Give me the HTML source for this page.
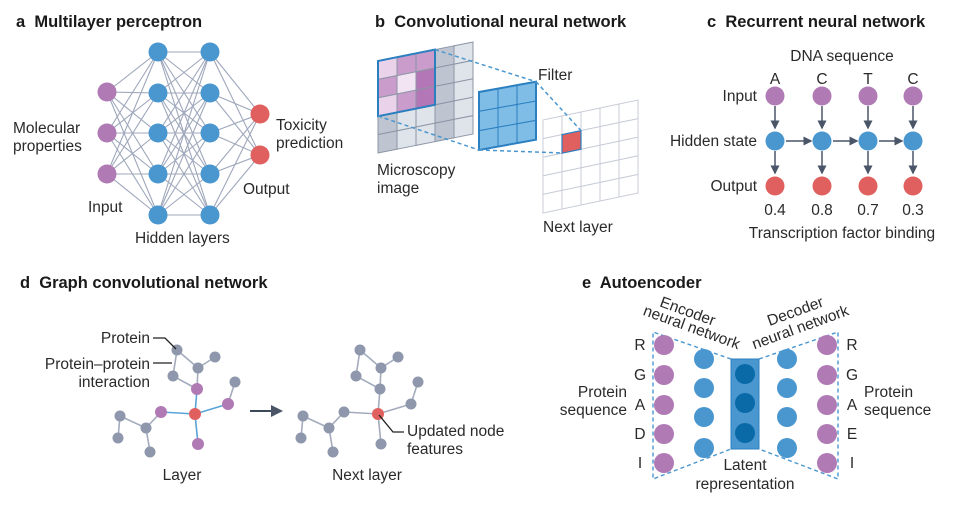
<!DOCTYPE html>
<html><head><meta charset="utf-8"><style>
html,body{margin:0;padding:0;background:#fff;}
svg{display:block;font-family:"Liberation Sans",sans-serif;}
.t{font-size:15.5px;fill:#2a2a2a;}
.h{font-size:16.5px;font-weight:bold;fill:#1a1a1a;}
</style></head><body>
<svg id="s" width="975" height="507" viewBox="0 0 975 507" xmlns="http://www.w3.org/2000/svg">
<defs>
<marker id="ar" markerWidth="6" markerHeight="6" refX="5" refY="3" orient="auto"><path d="M0,0 L6,3 L0,6 Z" fill="#4a5568"/></marker>
</defs>
<g id="mlpEdges" stroke="#9ea7bb" stroke-width="1.1"></g>
<g id="mlpNodes"></g>
<text class="h" x="16" y="27">a&#160; Multilayer perceptron</text>
<text class="t" x="13" y="133">Molecular</text>
<text class="t" x="13" y="151">properties</text>
<text class="t" x="88" y="212">Input</text>
<text class="t" x="135" y="243">Hidden layers</text>
<text class="t" x="276" y="130">Toxicity</text>
<text class="t" x="276" y="148">prediction</text>
<text class="t" x="243" y="194">Output</text>

<!-- panel b -->
<text class="h" x="375" y="27">b&#160; Convolutional neural network</text>
<g transform="translate(378,61) matrix(1,-0.2,0,1,0,0)" stroke="#8c95a6" stroke-width="1">
<g id="micro"></g>
<rect x="0" y="0" width="57" height="55.2" fill="none" stroke="#2a7fc0" stroke-width="2"/>
</g>
<g transform="translate(479,92) matrix(1,-0.18,0,1,0,0)">
<g id="filt"></g>
<rect x="0" y="0" width="57" height="58" fill="none" stroke="#2a7fc0" stroke-width="2"/>
</g>
<g transform="translate(543,120) matrix(1,-0.21,0,1,0,0)">
<g id="next"></g>
<rect x="19" y="18.6" width="19" height="18.6" fill="#e0605f" stroke="#2a7fc0" stroke-width="1.2"/>
</g>
<g stroke="#4a97d0" stroke-width="1.5" stroke-dasharray="4,3" fill="none">
<line x1="435" y1="49.6" x2="536" y2="81.7"/>
<line x1="378" y1="116" x2="479" y2="150"/>
<line x1="536" y1="81.7" x2="581" y2="130.6"/>
<line x1="479" y1="150" x2="562" y2="153"/>
</g>
<text class="t" x="538" y="80">Filter</text>
<text class="t" x="377" y="175">Microscopy</text>
<text class="t" x="377" y="193">image</text>
<text class="t" x="543" y="232">Next layer</text>

<!-- panel c -->
<text class="h" x="707" y="27">c&#160; Recurrent neural network</text>
<text class="t" x="842" y="61" text-anchor="middle">DNA sequence</text>
<g id="rnn"></g>
<text class="t" x="757" y="101" text-anchor="end">Input</text>
<text class="t" x="757" y="146" text-anchor="end">Hidden state</text>
<text class="t" x="757" y="191" text-anchor="end">Output</text>
<text class="t" x="842" y="238" text-anchor="middle">Transcription factor binding</text>

<!-- panel d -->
<text class="h" x="20" y="288">d&#160; Graph convolutional network</text>
<g id="graphs"></g>
<line x1="250" y1="411" x2="281" y2="411" stroke="#3d4a5c" stroke-width="2" marker-end="url(#ar)"/>
<polyline points="153,338 165,338 176,349" fill="none" stroke="#222" stroke-width="1.3"/>
<polyline points="153,363 172,363" fill="none" stroke="#222" stroke-width="1.3"/>
<polyline points="379,415 393,432 404,432" fill="none" stroke="#222" stroke-width="1.3"/>
<text class="t" x="150" y="343" text-anchor="end">Protein</text>
<text class="t" x="150" y="369" text-anchor="end">Protein–protein</text>
<text class="t" x="150" y="387" text-anchor="end">interaction</text>
<text class="t" x="182" y="480" text-anchor="middle">Layer</text>
<text class="t" x="367" y="480" text-anchor="middle">Next layer</text>
<text class="t" x="407" y="436">Updated node</text>
<text class="t" x="407" y="454">features</text>

<!-- panel e -->
<text class="h" x="582" y="288">e&#160; Autoencoder</text>
<g stroke="#4a97d0" stroke-width="1.4" stroke-dasharray="4,3" fill="none">
<polyline points="731,359 653,332 653,479 731,449"/>
<polyline points="759,359 838,332 838,479 759,449"/>
</g>
<rect x="731" y="359" width="28" height="90" fill="#4a97d0" stroke="#2a7fc0"/>
<g id="ae"></g>
<text class="t" transform="translate(686,316) rotate(20)" text-anchor="middle">Encoder</text>
<text class="t" transform="translate(690,332) rotate(20)" text-anchor="middle">neural network</text>
<text class="t" transform="translate(797,316) rotate(-20)" text-anchor="middle">Decoder</text>
<text class="t" transform="translate(802,332) rotate(-20)" text-anchor="middle">neural network</text>
<text class="t" x="627" y="397" text-anchor="end">Protein</text>
<text class="t" x="627" y="415" text-anchor="end">sequence</text>
<text class="t" x="864" y="397">Protein</text>
<text class="t" x="864" y="415">sequence</text>
<text class="t" x="745" y="470" text-anchor="middle">Latent</text>
<text class="t" x="745" y="489" text-anchor="middle">representation</text>
</svg>
<script>
var NS="http://www.w3.org/2000/svg";
function el(p,n,a,txt){var e=document.createElementNS(NS,n);for(var k in a)e.setAttribute(k,a[k]);if(txt)e.textContent=txt;document.getElementById(p).appendChild(e);return e;}
var P="#b07ab5",B="#4a97d0",R="#e0605f",G="#8e97ab";
var L=[[107,[92,133,174],P],[158,[52,93,133,174,215],B],[210,[52,93,133,174,215],B],[260,[114,155],R]];
for(var i=0;i<3;i++)for(var a of L[i][1])for(var b of L[i+1][1])el("mlpEdges","line",{x1:L[i][0],y1:a,x2:L[i+1][0],y2:b});
for(var l of L)for(var y of l[1])el("mlpNodes","circle",{cx:l[0],cy:y,r:9.5,fill:l[2]});
var pc=[["#ead2ea","#c99ccb","#c99ccb"],["#c99ccb","#f2e4f2","#b376b6"],["#ead2ea","#c99ccb","#b376b6"]];
var gc=["#dfe3ea","#bfc5d0"];
for(var r=0;r<5;r++)for(var c=0;c<5;c++){var f=(r<3&&c<3)?pc[r][c]:gc[(r*3+c*2)%3==0?1:0];
el("micro","rect",{x:c*19,y:r*18.4,width:19,height:18.4,fill:f});}
for(var r=0;r<3;r++)for(var c=0;c<3;c++)el("filt","rect",{x:c*19,y:r*19.33,width:19,height:19.33,fill:"#7fbce6",stroke:"#2a7fc0","stroke-width":1});
for(var r=0;r<5;r++)for(var c=0;c<5;c++)el("next","rect",{x:c*19,y:r*18.6,width:19,height:18.6,fill:"#fff",stroke:"#c8ccd8","stroke-width":1});
var xs=[775,822,868,913],lt=["A","C","T","C"],vals=["0.4","0.8","0.7","0.3"];
for(var i=0;i<4;i++){var x=xs[i];
el("rnn","line",{x1:x,y1:106,x2:x,y2:128,stroke:"#4a5568","stroke-width":1.5,"marker-end":"url(#ar)"});
el("rnn","line",{x1:x,y1:151,x2:x,y2:173,stroke:"#4a5568","stroke-width":1.5,"marker-end":"url(#ar)"});
if(i<3)el("rnn","line",{x1:x+11,y1:141,x2:xs[i+1]-11,y2:141,stroke:"#4a5568","stroke-width":1.5,"marker-end":"url(#ar)"});
el("rnn","circle",{cx:x,cy:96,r:9.5,fill:P});el("rnn","circle",{cx:x,cy:141,r:9.5,fill:B});el("rnn","circle",{cx:x,cy:186,r:9.5,fill:R});
el("rnn","text",{x:x,y:84,"text-anchor":"middle","class":"t"},lt[i]);
el("rnn","text",{x:x,y:215,"text-anchor":"middle","class":"t"},vals[i]);}
var N={A:[177,350],B:[215,357],C:[198,368],D:[173,376],E:[197,389],F:[235,382],G:[228,404],H:[195,414],I:[161,412],J:[120,416],K:[146,428],L:[118,438],M:[150,452],N:[198,444]};
var E=[["A","C"],["B","C"],["A","D"],["D","E"],["C","E"],["E","H"],["H","G"],["G","F"],["H","I"],["I","K"],["K","J"],["J","L"],["K","M"],["H","N"]];
var blueE={"E,H":1,"H,G":1,"H,I":1,"H,N":1};
var col={E:P,G:P,I:P,N:P,H:R};
for(var s of [0,183]){
for(var e of E){var a=N[e[0]],b=N[e[1]];el("graphs","line",{x1:a[0]+s,y1:a[1],x2:b[0]+s,y2:b[1],stroke:(s==0&&blueE[e.join()])?"#5aa5d8":"#a3abbd","stroke-width":1.6});}
for(var k in N){var c=(k=="H")?R:(s==0&&col[k]?col[k]:G);el("graphs","circle",{cx:N[k][0]+s,cy:N[k][1],r:(c==G?5.5:6),fill:c});}}
var py=[345,375,405,434,463],ll=["R","G","A","D","I"],rl=["R","G","A","E","I"];
for(var i=0;i<5;i++){el("ae","circle",{cx:664,cy:py[i],r:10,fill:P});el("ae","circle",{cx:827,cy:py[i],r:10,fill:P});
el("ae","text",{x:640,y:py[i]+5,"text-anchor":"middle","class":"t"},ll[i]);el("ae","text",{x:852,y:py[i]+5,"text-anchor":"middle","class":"t"},rl[i]);}
for(var y of [359,388,417,448]){el("ae","circle",{cx:704,cy:y,r:10,fill:B});el("ae","circle",{cx:787,cy:y,r:10,fill:B});}
for(var y of [374,403,433])el("ae","circle",{cx:745,cy:y,r:10,fill:"#0a6aa8"});
</script>
</body></html>
